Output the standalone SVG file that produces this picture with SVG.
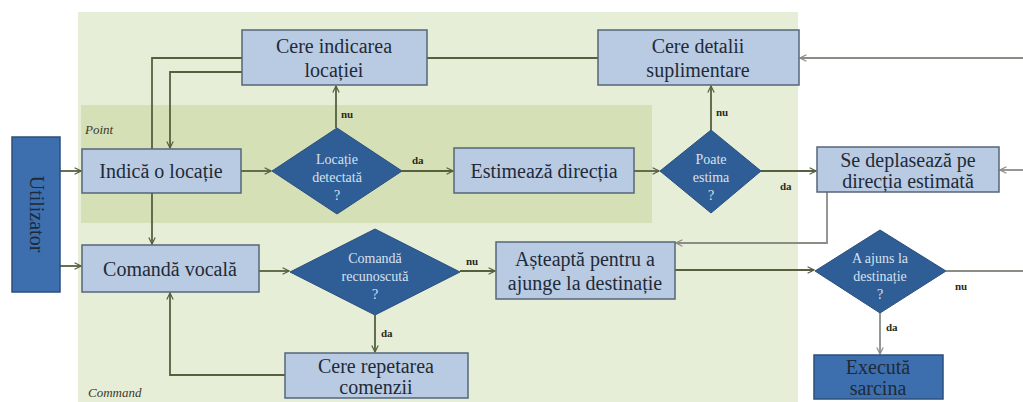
<svg xmlns="http://www.w3.org/2000/svg" width="1023" height="402" viewBox="0 0 1023 402">
  <style>
    .box { fill: #b9cbe3; stroke: #56667a; stroke-width: 1.5; }
    .dark { fill: #3d6fae; stroke: #2c4f7c; stroke-width: 1.5; }
    .dia { fill: #2f5d95; stroke: #2a4f7d; stroke-width: 1; }
    text { font-family: "Liberation Serif", "DejaVu Serif", serif; }
    .t { font-size: 20px; fill: #1f2a38; text-anchor: middle; }
    .td { font-size: 14px; fill: #d6e2f0; text-anchor: middle; }
    .lbl { font-size: 11px; font-weight: bold; fill: #2a2a1a; }
    .zone { font-size: 13px; font-style: italic; fill: #3a3a2a; }
    .c { fill: none; stroke: #56603f; stroke-width: 1.8; }
    .cg { fill: none; stroke: #8a8c86; stroke-width: 1.8; }
  </style>
  <defs>
    <marker id="arr" viewBox="0 0 10 10" refX="9" refY="5" markerWidth="8" markerHeight="8" orient="auto" markerUnits="userSpaceOnUse">
      <path d="M1,1 L9,5 L1,9" fill="none" stroke="#56603f" stroke-width="1.5"/>
    </marker>
    <marker id="arrg" viewBox="0 0 10 10" refX="9" refY="5" markerWidth="8" markerHeight="8" orient="auto" markerUnits="userSpaceOnUse">
      <path d="M1,1 L9,5 L1,9" fill="none" stroke="#8a8c86" stroke-width="1.5"/>
    </marker>
  </defs>

  <rect width="1023" height="402" fill="#ffffff"/>
  <!-- zones -->
  <rect x="78" y="12" width="720" height="390" fill="#e7eed7"/>
  <rect x="81" y="105" width="571" height="118" fill="#d6e0b7"/>
  <text class="zone" x="85" y="134">Point</text>
  <text class="zone" x="88" y="397">Command</text>

  <!-- connectors -->
  <g id="connectors">
    <path class="c" d="M60,171 H81" marker-end="url(#arr)"/>
    <path class="c" d="M60,266 H81" marker-end="url(#arr)"/>
    <path class="c" d="M241,171 H271" marker-end="url(#arr)"/>
    <path class="c" d="M336,128 V86" marker-end="url(#arr)"/>
    <path class="c" d="M242,58 H152 V149"/>
    <path class="c" d="M242,72 H170 V148" marker-end="url(#arr)"/>
    <path class="c" d="M152,193 V244" marker-end="url(#arr)"/>
    <path class="c" d="M427,58 H598"/>
    <path class="c" d="M402,171 H453" marker-end="url(#arr)"/>
    <path class="c" d="M634,171 H659" marker-end="url(#arr)"/>
    <path class="c" d="M711,130 V86" marker-end="url(#arr)"/>
    <path class="c" d="M761,171 H816" marker-end="url(#arr)"/>
    <path class="cg" d="M1023,58 H800" marker-end="url(#arrg)"/>
    <path class="cg" d="M1023,170 H1000" marker-end="url(#arrg)"/>
    <path class="cg" d="M827,192 V243 H676" marker-end="url(#arrg)"/>
    <path class="c" d="M259,271 H289" marker-end="url(#arr)"/>
    <path class="c" d="M460,271 H495" marker-end="url(#arr)"/>
    <path class="c" d="M375,315 V352" marker-end="url(#arr)"/>
    <path class="c" d="M285,375 H170 V293" marker-end="url(#arr)"/>
    <path class="c" d="M675,270 H814" marker-end="url(#arr)"/>
    <path class="cg" d="M946,271 H1023"/>
    <path class="cg" d="M880,313 V354" marker-end="url(#arrg)"/>
    <text class="lbl" x="341" y="118">nu</text>
    <text class="lbl" x="412" y="164">da</text>
    <text class="lbl" x="716" y="116">nu</text>
    <text class="lbl" x="780" y="190">da</text>
    <text class="lbl" x="466" y="265">nu</text>
    <text class="lbl" x="381" y="337">da</text>
    <text class="lbl" x="955" y="290" font-weight="normal">nu</text>
    <text class="lbl" x="886" y="331" font-weight="normal">da</text>
  </g>

  <g id="utilizator">
    <rect class="dark" x="12" y="137" width="48" height="155"/>
    <text class="t" transform="translate(36,214) rotate(90)" y="6">Utilizator</text>
  </g>
  <g id="indica">
    <rect class="box" x="82" y="149" width="159" height="44"/>
    <text class="t" x="161" y="178">Indică o locație</text>
  </g>
  <g id="cere-indicarea">
    <rect class="box" x="242" y="30" width="185" height="55"/>
    <text class="t" x="334" y="53">Cere indicarea</text>
    <text class="t" x="334" y="77">locației</text>
  </g>
  <g id="cere-detalii">
    <rect class="box" x="598" y="30" width="201" height="55"/>
    <text class="t" x="698" y="53">Cere detalii</text>
    <text class="t" x="698" y="77">suplimentare</text>
  </g>
  <g id="locatie-detectata">
    <polygon class="dia" points="337,128 402,171 337,214 272,171"/>
    <text class="td" x="337" y="164">Locație</text>
    <text class="td" x="337" y="182">detectată</text>
    <text class="td" x="337" y="200">?</text>
  </g>
  <g id="estimeaza">
    <rect class="box" x="454" y="148" width="180" height="45"/>
    <text class="t" x="544" y="178">Estimează direcția</text>
  </g>
  <g id="poate-estima">
    <polygon class="dia" points="711,130 761,171 711,213 660,171"/>
    <text class="td" x="711" y="164">Poate</text>
    <text class="td" x="711" y="182">estima</text>
    <text class="td" x="711" y="200">?</text>
  </g>
  <g id="se-deplaseaza">
    <rect class="box" x="817" y="147" width="182" height="45"/>
    <text class="t" x="908" y="167">Se deplasează pe</text>
    <text class="t" x="908" y="188">direcția estimată</text>
  </g>
  <g id="comanda-vocala">
    <rect class="box" x="82" y="245" width="177" height="47"/>
    <text class="t" x="170" y="276">Comandă vocală</text>
  </g>
  <g id="comanda-recunoscuta">
    <polygon class="dia" points="375,229 460,272 375,315 290,272"/>
    <text class="td" x="375" y="263">Comandă</text>
    <text class="td" x="375" y="281">recunoscută</text>
    <text class="td" x="375" y="299">?</text>
  </g>
  <g id="asteapta">
    <rect class="box" x="496" y="242" width="179" height="57"/>
    <text class="t" x="585" y="266">Așteaptă pentru a</text>
    <text class="t" x="585" y="290">ajunge la destinație</text>
  </g>
  <g id="cere-repetarea">
    <rect class="box" x="285" y="353" width="183" height="45"/>
    <text class="t" x="376" y="373">Cere repetarea</text>
    <text class="t" x="376" y="394">comenzii</text>
  </g>
  <g id="a-ajuns">
    <polygon class="dia" points="880,230 946,271 880,313 815,271"/>
    <text class="td" x="880" y="263">A ajuns la</text>
    <text class="td" x="880" y="281">destinație</text>
    <text class="td" x="880" y="299">?</text>
  </g>
  <g id="executa">
    <rect class="dark" x="814" y="355" width="129" height="44"/>
    <text class="t" x="878" y="374">Execută</text>
    <text class="t" x="878" y="395">sarcina</text>
  </g>
</svg>
